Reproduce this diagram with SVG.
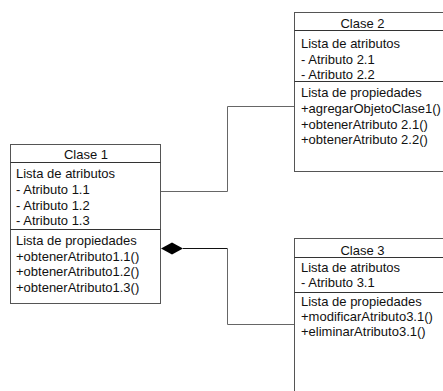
<svg xmlns="http://www.w3.org/2000/svg" width="443" height="391" viewBox="0 0 443 391">
<style>
  .box { fill: #ffffff; stroke: #555555; stroke-width: 1; }
  .div { stroke: #333333; stroke-width: 1; fill: none; }
  .t { font-family: "Liberation Sans", Arial, sans-serif; font-size: 13px; fill: #111111; }
  .h { text-anchor: middle; }
  .conn { fill: none; stroke: #666666; stroke-width: 1; }
  .conn2 { fill: none; stroke: #111111; stroke-width: 1; }
</style>
<rect x="0" y="0" width="443" height="391" fill="#ffffff"/>
<g id="connectors">
  <path class="conn" d="M160.5,191.5 H227.5 V106.5 H294.5"/>
  <path class="conn2" d="M183,248.5 H227.5"/>
  <path class="conn" d="M227.5,248.5 V324.5 H294.5"/>
  <polygon points="161,248.5 172,242.5 183,248.5 172,254.5" fill="#000000"/>
</g>
<g id="clase1">
  <rect class="box" x="10.5" y="144.5" width="150" height="159"/>
  <line class="div" x1="10.5" y1="162.5" x2="160.5" y2="162.5"/>
  <line class="div" x1="10.5" y1="229.5" x2="160.5" y2="229.5"/>
  <text class="t h" x="86" y="159">Clase 1</text>
  <text class="t" x="16" y="178">Lista de atributos</text>
  <text class="t" x="16" y="194">- Atributo 1.1</text>
  <text class="t" x="16" y="209.5">- Atributo 1.2</text>
  <text class="t" x="16" y="225">- Atributo 1.3</text>
  <text class="t" x="16" y="244.5">Lista de propiedades</text>
  <text class="t" x="16" y="260.5">+obtenerAtributo1.1()</text>
  <text class="t" x="16" y="276">+obtenerAtributo1.2()</text>
  <text class="t" x="16" y="291.5">+obtenerAtributo1.3()</text>
</g>
<g id="clase2">
  <rect class="box" x="294.5" y="12.5" width="152" height="159"/>
  <line class="div" x1="294.5" y1="30.5" x2="446" y2="30.5"/>
  <line class="div" x1="294.5" y1="81.5" x2="446" y2="81.5"/>
  <text class="t h" x="362.5" y="27.5">Clase 2</text>
  <text class="t" x="301" y="48">Lista de atributos</text>
  <text class="t" x="301" y="63.5">- Atributo 2.1</text>
  <text class="t" x="301" y="79">- Atributo 2.2</text>
  <text class="t" x="301" y="97">Lista de propiedades</text>
  <text class="t" x="301" y="113">+agregarObjetoClase1()</text>
  <text class="t" x="301" y="128.5">+obtenerAtributo 2.1()</text>
  <text class="t" x="301" y="144">+obtenerAtributo 2.2()</text>
</g>
<g id="clase3">
  <rect class="box" x="294.5" y="238.5" width="152" height="170"/>
  <line class="div" x1="294.5" y1="257.5" x2="446" y2="257.5"/>
  <line class="div" x1="294.5" y1="292.5" x2="446" y2="292.5"/>
  <text class="t h" x="362.5" y="255">Clase 3</text>
  <text class="t" x="301" y="271.5">Lista de atributos</text>
  <text class="t" x="301" y="287">- Atributo 3.1</text>
  <text class="t" x="301" y="305.5">Lista de propiedades</text>
  <text class="t" x="301" y="321">+modificarAtributo3.1()</text>
  <text class="t" x="301" y="336">+eliminarAtributo3.1()</text>
</g>
</svg>
